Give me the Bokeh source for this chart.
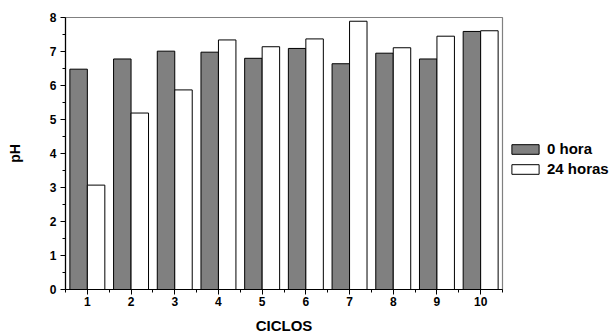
from bokeh.plotting import figure
from bokeh.layouts import row
from bokeh.models import Range1d, FixedTicker, Legend, LegendItem
from bokeh.embed import file_html
from bokeh.resources import INLINE

ciclos = [1, 2, 3, 4, 5, 6, 7, 8, 9, 10]
ph_0h = [6.48, 6.78, 7.01, 6.98, 6.80, 7.09, 6.64, 6.95, 6.78, 7.59]
ph_24h = [3.07, 5.19, 5.87, 7.34, 7.14, 7.37, 7.89, 7.11, 7.45, 7.61]
series_labels = ["0 hora", "24 horas"]
x_ticks = [1, 2, 3, 4, 5, 6, 7, 8, 9, 10]
y_ticks = [0, 1, 2, 3, 4, 5, 6, 7, 8]

FONT = "Liberation Sans"
GRAY = "#808080"

p = figure(width=504, height=336, output_backend="svg", toolbar_location=None,
           x_range=Range1d(0.5, 10.5), y_range=Range1d(0, 8),
           min_border_left=65, min_border_right=2, min_border_top=17,
           min_border_bottom=47)
p.xgrid.visible = False
p.ygrid.visible = False
p.outline_line_color = GRAY
p.outline_line_width = 1.2

x0 = [c - 0.2 for c in ciclos]
x1 = [c + 0.2 for c in ciclos]
p.vbar(x=x0, top=ph_0h, width=0.4, bottom=0, fill_color=GRAY,
       line_color="black", line_width=1)
p.vbar(x=x1, top=ph_24h, width=0.4, bottom=0, fill_color="white",
       line_color="black", line_width=1)

for ax in (p.xaxis[0], p.yaxis[0]):
    ax.axis_line_color = "black"
    ax.axis_line_width = 1.2
    ax.major_tick_line_color = "black"
    ax.minor_tick_line_color = "black"
    ax.major_tick_in = 0
    ax.major_tick_out = 5
    ax.minor_tick_in = 0
    ax.minor_tick_out = 3
    ax.major_label_text_font = FONT
    ax.major_label_text_font_style = "bold"
    ax.major_label_text_font_size = "12px"
    ax.major_label_text_color = "black"
    ax.axis_label_text_font = FONT
    ax.axis_label_text_font_style = "bold"
    ax.axis_label_text_color = "black"

p.xaxis.ticker = FixedTicker(ticks=x_ticks, minor_ticks=[t - 0.5 for t in x_ticks] + [10.5])
p.yaxis.ticker = FixedTicker(ticks=y_ticks, minor_ticks=[t + 0.5 for t in y_ticks[:-1]])
p.xaxis.axis_label = "CICLOS"
p.yaxis.axis_label = "pH"
p.xaxis.axis_label_text_font_size = "15px"
p.yaxis.axis_label_text_font_size = "14px"
p.xaxis.major_label_standoff = 2
p.yaxis.major_label_standoff = 4
p.xaxis.axis_label_standoff = 8
p.yaxis.axis_label_standoff = 24

# legend panel
p2 = figure(width=110, height=336, output_backend="svg", toolbar_location=None,
            x_range=Range1d(0, 1), y_range=Range1d(0, 1),
            x_axis_type=None, y_axis_type=None,
            min_border_left=0, min_border_right=0, min_border_top=0,
            min_border_bottom=0)
p2.outline_line_color = None
p2.xgrid.visible = False
p2.ygrid.visible = False
d0 = p2.vbar(x=[50], top=[-50], bottom=[-60], width=0.1, fill_color=GRAY,
             line_color="black", line_width=1)
d1 = p2.vbar(x=[50], top=[-50], bottom=[-60], width=0.1, fill_color="white",
             line_color="black", line_width=1)
legend = Legend(items=[LegendItem(label=series_labels[0], renderers=[d0]),
                       LegendItem(label=series_labels[1], renderers=[d1])],
                location=(4, 112), orientation="vertical",
                glyph_width=34, glyph_height=12, label_standoff=5,
                label_text_font=FONT, label_text_font_style="bold",
                label_text_font_size="15px", label_text_color="black",
                padding=0, margin=0, spacing=3, border_line_color=None,
                background_fill_alpha=0, label_height=12)
p2.add_layout(legend)

layout = row(p, p2)
open("out.html", "w").write(file_html(layout, INLINE))
